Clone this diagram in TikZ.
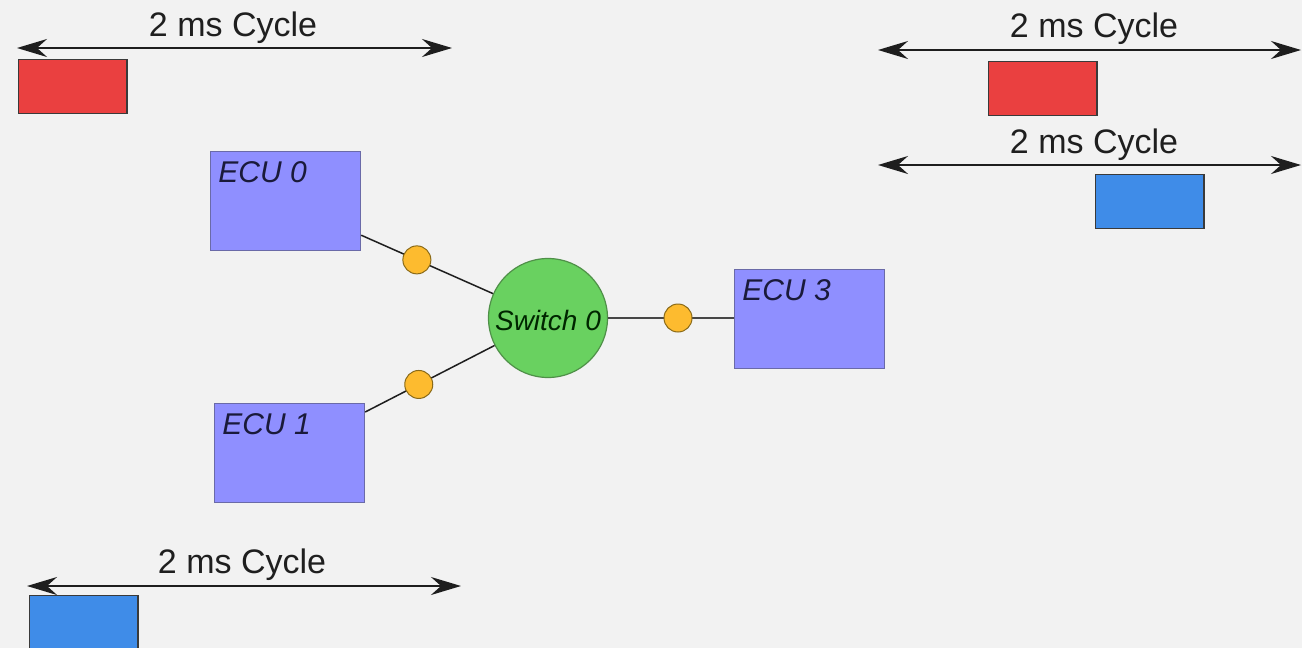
\documentclass[tikz,border=0pt]{standalone}
\usepackage{fontspec}
\setmainfont{Liberation Sans}
\usetikzlibrary{arrows.meta,calc}

\definecolor{bg}{HTML}{F2F2F2}
\definecolor{ecufill}{HTML}{8F8FFF}
\definecolor{ecuborder}{HTML}{6A6AA8}
\definecolor{ecutxt}{HTML}{1A1A3A}
\definecolor{swfill}{HTML}{69D160}
\definecolor{swborder}{HTML}{4F9048}
\definecolor{dotfill}{HTML}{FDBB2F}
\definecolor{dotborder}{HTML}{8A6A18}
\definecolor{redframe}{HTML}{EA4040}
\definecolor{blueframe}{HTML}{3F8CE8}
\definecolor{framecol}{HTML}{3A3A3A}
\definecolor{linecol}{HTML}{1E1E1E}

\tikzset{
  ecu/.style={draw=ecuborder, fill=ecufill, line width=0.6pt,
    minimum width=75pt, minimum height=49.5pt, inner sep=0pt, anchor=north west},
  ecutext/.style={font=\fontsize{15}{18}\selectfont\itshape, text=ecutxt,
    anchor=base west, inner sep=0pt},
  switchnode/.style={circle, draw=swborder, fill=swfill, line width=0.6pt,
    minimum size=59.5pt, inner sep=0pt},
  switchtext/.style={font=\fontsize{14}{17}\selectfont\itshape, text=black!85!green,
    anchor=base, inner sep=0pt},
  portdot/.style={circle, draw=dotborder, fill=dotfill, line width=0.5pt,
    minimum size=14pt, inner sep=0pt},
  frame/.style={draw=framecol, line width=0.8pt, minimum width=54.2pt,
    minimum height=27pt, inner sep=0pt, anchor=north west},
  cycle/.style={draw=linecol, line width=1pt,
    {Stealth[length=15pt,width=9pt,inset=5pt]}-{Stealth[length=15pt,width=9pt,inset=5pt]}},
  cyclabel/.style={font=\fontsize{17}{20}\selectfont, text=black!88,
    anchor=base, inner sep=0pt},
  link/.style={draw=linecol, line width=0.75pt},
  trunk/.style={draw=black!72, line width=1.4pt},
}

\begin{document}
\begin{tikzpicture}[x=0.5pt,y=-0.5pt]
\fill[bg] (0,0) rectangle (1302,648);
\useasboundingbox (0,0) rectangle (1302,648);

% network nodes
\node[ecu] (e0) at (210,151) {};
\node[ecutext] (t0) at ($(e0.north west)+(8,31)$) {ECU 0};
\node[ecu] (e1) at (214,403) {};
\node[ecutext] (t1) at ($(e1.north west)+(8,31)$) {ECU 1};
\node[ecu] (e3) at (734,269) {};
\node[ecutext] (t3) at ($(e3.north west)+(8,31)$) {ECU 3};
\node[switchnode] (sw) at (548,318) {};
\node[switchtext] (swt) at (548,330) {Switch 0};

% links with their ports
\coordinate (c0) at ($(e0.south east)+(0,-16)$);
\coordinate (c1) at ($(e1.north east)+(0,9)$);
\draw[link] (c0) -- (sw);
\draw[link] (c1) -- (sw);
\draw[trunk] (sw) -- (e3.west |- sw);
\node[portdot] (p0) at ($(c0)!0.298!(sw.center)$) {};
\node[portdot] (p1) at ($(c1)!0.293!(sw.center)$) {};
\node[portdot] (p3) at (678,318) {};

% cycle timelines
\coordinate (a1l) at (17,48);   \coordinate (a1r) at (452,48);
\draw[cycle] (a1l) -- (a1r);
\node[cyclabel] (l1) at (233,36) {2 ms Cycle};
\node[frame, fill=redframe] (f1) at (17.5,58.5) {};

\coordinate (a2l) at (878,50);  \coordinate (a2r) at (1301,50);
\draw[cycle] (a2l) -- (a2r);
\node[cyclabel] (l2) at (1094,37) {2 ms Cycle};
\node[frame, fill=redframe] (f2) at (987.5,60.5) {};

\coordinate (a3l) at (878,165); \coordinate (a3r) at (1301,165);
\draw[cycle] (a3l) -- (a3r);
\node[cyclabel] (l3) at (1094,153) {2 ms Cycle};
\node[frame, fill=blueframe] (f3) at (1094.5,173.5) {};

\coordinate (a4l) at (27,586);  \coordinate (a4r) at (461,586);
\draw[cycle] (a4l) -- (a4r);
\node[cyclabel] (l4) at (242,573) {2 ms Cycle};
\node[frame, fill=blueframe] (f4) at (28.5,594.5) {};
\end{tikzpicture}
\end{document}
